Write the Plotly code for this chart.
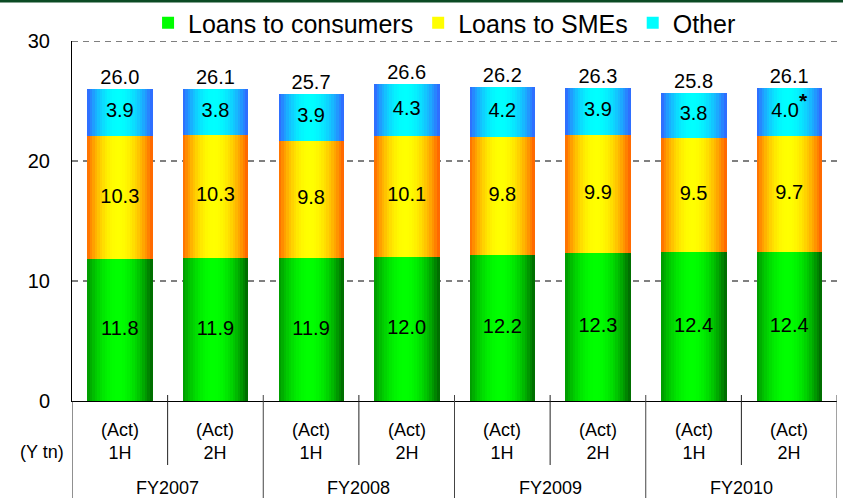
import plotly.graph_objects as go

# Loan balance by half-year (Y tn)
periods = ["(Act)<br>1H", "(Act)<br>2H"] * 4
fiscal_years = ["FY2007", "FY2008", "FY2009", "FY2010"]
consumers = [11.8, 11.9, 11.9, 12.0, 12.2, 12.3, 12.4, 12.4]
smes = [10.3, 10.3, 9.8, 10.1, 9.8, 9.9, 9.5, 9.7]
other = [3.9, 3.8, 3.9, 4.3, 4.2, 3.9, 3.8, 4.0]
totals = [26.0, 26.1, 25.7, 26.6, 26.2, 26.3, 25.8, 26.1]
other_labels = ["3.9", "3.8", "3.9", "4.3", "4.2", "3.9", "3.8",
                "4.0<sup><span style='font-size:21px'><b>*</b></span></sup>"]

FONT = "Liberation Sans, Arial, sans-serif"
xs = list(range(len(consumers)))
BAR_W = 0.68
SLICES = 26


def lerp(a, b, f):
    return a + (b - a) * f


def shade(edge_l, edge_r, centre, t):
    # cylinder-like horizontal shading: bright centre, darker edges
    peak = 0.47
    if t <= peak:
        f = 1 - ((peak - t) / peak) ** 2
        edge = edge_l
    else:
        f = 1 - ((t - peak) / (1 - peak)) ** 2
        edge = edge_r
    r, g, b = (int(round(lerp(e, c, f))) for e, c in zip(edge, centre))
    return f"rgb({r},{g},{b})"


series = [
    ("Loans to consumers", consumers, [0.0] * 8,
     (0, 150, 0), (0, 100, 0), (0, 255, 0)),
    ("Loans to SMEs", smes, consumers,
     (255, 105, 0), (255, 95, 0), (255, 255, 0)),
    ("Other", other, [c + s for c, s in zip(consumers, smes)],
     (50, 100, 255), (50, 100, 255), (0, 255, 255)),
]

fig = go.Figure()
for name, vals, base, el, er, ctr in series:
    for k in range(SLICES):
        t = (k + 0.5) / SLICES
        fig.add_trace(go.Bar(
            x=xs, y=vals, base=base,
            width=BAR_W / SLICES * 1.2,
            offset=-BAR_W / 2 + k * BAR_W / SLICES,
            marker=dict(color=shade(el, er, ctr, t), line=dict(width=0)),
            name=name, legendgroup=name,
            showlegend=(k == SLICES // 2),
            hoverinfo="skip",
        ))


def mids(vals, base):
    return [b + v / 2 for v, b in zip(vals, base)]


# segment value labels and totals
txt = dict(size=20, color="black", family=FONT)
fig.add_trace(go.Scatter(x=xs, y=mids(consumers, [0] * 8), mode="text",
                         text=[f"{v:.1f}" for v in consumers],
                         textfont=txt, showlegend=False, hoverinfo="skip"))
fig.add_trace(go.Scatter(x=xs, y=mids(smes, consumers), mode="text",
                         text=[f"{v:.1f}" for v in smes],
                         textfont=txt, showlegend=False, hoverinfo="skip"))
fig.add_trace(go.Scatter(x=xs, y=mids(other, series[2][2]), mode="text",
                         text=other_labels,
                         textfont=txt, showlegend=False, hoverinfo="skip"))
tops = [c + s + o for c, s, o in zip(consumers, smes, other)]
fig.add_trace(go.Scatter(x=xs, y=tops, mode="text",
                         text=[f"{v:.1f}" for v in totals],
                         textposition="top center",
                         textfont=txt, showlegend=False, hoverinfo="skip"))

PLOT_H = 360
lab = dict(size=18, family=FONT, color="black")
annotations = []
for i, p in enumerate(periods):
    annotations.append(dict(x=i, y=0, xref="x", yref="paper", text=p,
                            showarrow=False, yanchor="middle", yshift=-40,
                            font=lab))
for j, fy in enumerate(fiscal_years):
    annotations.append(dict(x=2 * j + 0.5, y=0, xref="x", yref="paper",
                            text=fy, showarrow=False, yanchor="middle",
                            yshift=-87, font=lab))
annotations.append(dict(x=0, y=0, xref="paper", yref="paper", text="(Y tn)",
                        showarrow=False, xanchor="right", yanchor="middle",
                        xshift=-6, yshift=-51, font=lab))

shapes = []
for j in range(4):
    # 1H / 2H divider
    shapes.append(dict(type="line", xref="x", yref="paper",
                       x0=2 * j + 0.5, x1=2 * j + 0.5,
                       y0=6 / PLOT_H, y1=-64 / PLOT_H,
                       line=dict(color="#222222", width=1)))
    # fiscal-year divider
    shapes.append(dict(type="line", xref="x", yref="paper",
                       x0=2 * j + 1.5, x1=2 * j + 1.5,
                       y0=6 / PLOT_H, y1=-0.3,
                       line=dict(color="#444444", width=1)))
# left axis continued through the label table
shapes.append(dict(type="line", xref="x", yref="paper", x0=-0.5, x1=-0.5,
                   y0=0, y1=-0.3, line=dict(color="#222222", width=1)))
# dashed gridlines
for gy in (10, 20, 30):
    shapes.append(dict(type="line", xref="paper", yref="y", x0=0, x1=1,
                       y0=gy, y1=gy, layer="below",
                       line=dict(color="black", width=1, dash="6px,5px")))
# dark green rule along the top edge
shapes.append(dict(type="rect", xref="paper", yref="paper",
                   x0=-0.2, x1=1.2, y0=1 + 38.5 / PLOT_H, y1=1 + 45 / PLOT_H,
                   fillcolor="#0b4a24", line=dict(width=0)))

fig.update_layout(
    width=843, height=498,
    margin=dict(l=72, r=6, t=41, b=97, autoexpand=False),
    paper_bgcolor="white", plot_bgcolor="white",
    barmode="overlay", bargap=0,
    font=dict(family=FONT, color="black"),
    showlegend=True,
    legend=dict(orientation="h", x=0.487, xanchor="center",
                y=1 + 18 / PLOT_H, yanchor="middle",
                font=dict(size=25, family=FONT, color="black"),
                itemwidth=30, tracegroupgap=0, traceorder="normal",
                bgcolor="rgba(0,0,0,0)"),
    xaxis=dict(range=[-0.5, 7.5], showticklabels=False, ticks="",
               showgrid=False, zeroline=False, showline=True,
               linecolor="black", linewidth=1, fixedrange=True),
    yaxis=dict(range=[0, 30], tickvals=[0, 10, 20, 30],
               ticks="", ticklabelstandoff=17,
               showgrid=False, zeroline=False, showline=True,
               linecolor="black", linewidth=1,
               tickfont=dict(size=20, family=FONT, color="black")),
    annotations=annotations, shapes=shapes,
)

fig.write_html("out.html")
